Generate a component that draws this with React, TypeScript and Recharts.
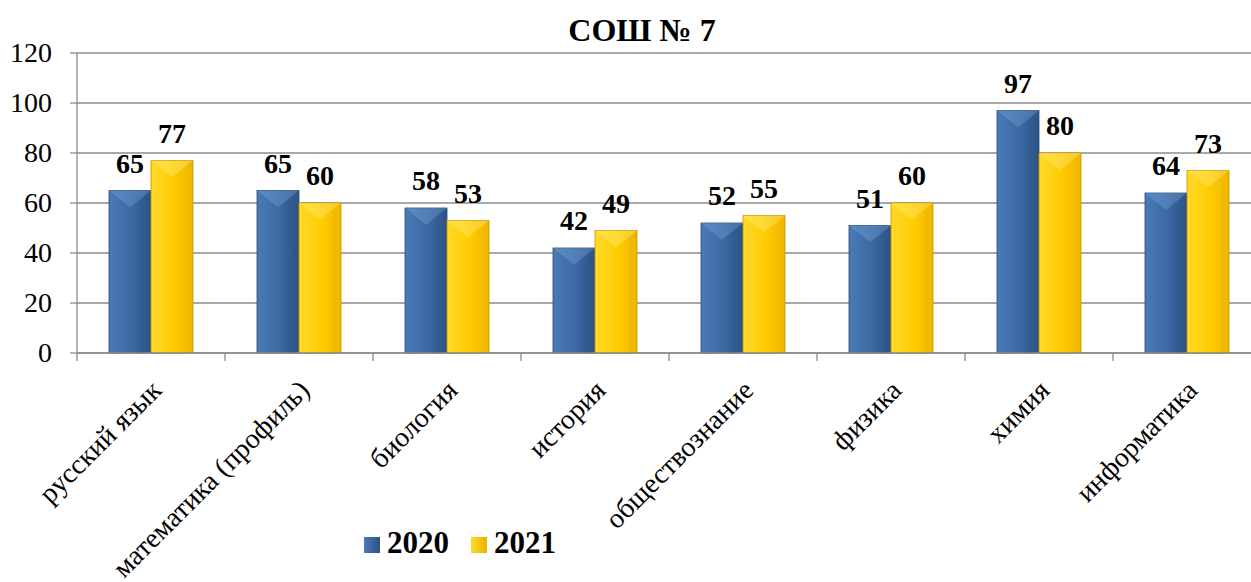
import { BarChart, Bar, XAxis, YAxis, CartesianGrid, LabelList } from "recharts";

const categories = [
  "русский язык",
  "математика (профиль)",
  "биология",
  "история",
  "обществознание",
  "физика",
  "химия",
  "информатика",
];
const values2020 = [65, 65, 58, 42, 52, 51, 97, 64];
const values2021 = [77, 60, 53, 49, 55, 60, 80, 73];
const yTicks = [0, 20, 40, 60, 80, 100, 120];

const data = categories.map((name, i) => ({ name, y2020: values2020[i], y2021: values2021[i] }));

const FONT = "Liberation Serif";
const GRID = "#8c8c8c";

function CatTick(props: any) {
  const { x, y, payload } = props;
  const half = payload?.offset ?? 74;
  const ax = x + 12;
  const ay = y + 31;
  return (
    <g>
      <line x1={x - half} x2={x - half} y1={y - 8} y2={y} stroke={GRID} strokeWidth={1.3} />
      <text
        x={ax}
        y={ay}
        transform={`rotate(-45, ${ax}, ${ay})`}
        textAnchor="end"
        fontSize={28}
        fontFamily={FONT}
        fill="#000"
      >
        {payload.value}
      </text>
    </g>
  );
}

function YTick(props: any) {
  const { x, y, payload } = props;
  return (
    <text x={x} y={y} dy={9} textAnchor="end" fontSize={28} fontFamily={FONT} fill="#000">
      {payload.value}
    </text>
  );
}

function makeBevel(grad: string, dark: string, top: string) {
  return (props: any) => {
    const { x, y, width, height } = props;
    if (!height || height <= 0) return null;
    const b = Math.min(width * 0.4, height);
    return (
      <g>
        <rect x={x} y={y} width={width} height={height} fill={`url(#${grad})`} stroke={dark} strokeWidth={0.8} />
        <polygon points={`${x},${y} ${x + width},${y} ${x + width / 2},${y + b}`} fill={top} opacity={0.35} />
      </g>
    );
  };
}

const BlueBar = makeBevel("g2020", "#2a4c78", "#7aa6dd");
const GoldBar = makeBevel("g2021", "#c89400", "#fff08a");

function ValueLabel(props: any) {
  const { x, y, width, value } = props;
  return (
    <text x={x + width / 2} y={y - 18} textAnchor="middle" fontSize={28} fontWeight={700} fontFamily={FONT} fill="#000">
      {value}
    </text>
  );
}

export default function App() {
  return (
    <div
      style={{
        position: "fixed",
        left: 0,
        top: 0,
        width: 1251,
        height: 582,
        overflow: "hidden",
        background: "#fff",
        fontFamily: FONT,
      }}
    >
      <div
        style={{
          position: "absolute",
          left: 642,
          top: 14,
          transform: "translateX(-50%)",
          fontSize: 32,
          lineHeight: "32px",
          fontWeight: 700,
          whiteSpace: "nowrap",
        }}
      >
        СОШ № 7
      </div>
      <BarChart
        width={1265}
        height={582}
        data={data}
        margin={{ top: 53, right: 4, left: 0, bottom: 0 }}
        barCategoryGap={32}
        barGap={0}
      >
        <defs>
          <linearGradient id="g2020" x1="0" y1="0" x2="1" y2="0">
            <stop offset="0%" stopColor="#4a7bb7" />
            <stop offset="55%" stopColor="#3b69a2" />
            <stop offset="100%" stopColor="#2b5283" />
          </linearGradient>
          <linearGradient id="g2021" x1="0" y1="0" x2="1" y2="0">
            <stop offset="0%" stopColor="#ffd92a" />
            <stop offset="55%" stopColor="#ffcc00" />
            <stop offset="100%" stopColor="#eeb300" />
          </linearGradient>
        </defs>
        <CartesianGrid vertical={false} stroke={GRID} strokeWidth={1.3} />
        <XAxis
          dataKey="name"
          interval={0}
          height={229}
          tickLine={false}
          tickSize={8}
          tickMargin={0}
          axisLine={{ stroke: GRID, strokeWidth: 1.3 }}
          tick={<CatTick />}
        />
        <YAxis
          width={77}
          domain={[0, 120]}
          ticks={yTicks}
          interval={0}
          tickSize={7}
          tickMargin={18}
          tickLine={{ stroke: GRID, strokeWidth: 1.3 }}
          axisLine={{ stroke: GRID, strokeWidth: 1.3 }}
          tick={<YTick />}
        />
        <Bar dataKey="y2020" name="2020" fill="#3b69a2" shape={BlueBar} isAnimationActive={false}>
          <LabelList dataKey="y2020" content={<ValueLabel />} />
        </Bar>
        <Bar dataKey="y2021" name="2021" fill="#ffcc00" shape={GoldBar} isAnimationActive={false}>
          <LabelList dataKey="y2021" content={<ValueLabel />} />
        </Bar>
      </BarChart>
      <div
        style={{
          position: "absolute",
          left: 364,
          top: 527,
          display: "flex",
          alignItems: "flex-start",
          fontSize: 31,
          lineHeight: "31px",
          fontWeight: 700,
        }}
      >
        <span style={{ width: 16, height: 16, marginTop: 10, background: "linear-gradient(90deg,#4a7bb7,#2b5283)" }} />
        <span style={{ marginLeft: 7 }}>2020</span>
        <span
          style={{ width: 16, height: 16, marginTop: 10, marginLeft: 22, background: "linear-gradient(90deg,#ffd92a,#eeb300)" }}
        />
        <span style={{ marginLeft: 7 }}>2021</span>
      </div>
    </div>
  );
}
